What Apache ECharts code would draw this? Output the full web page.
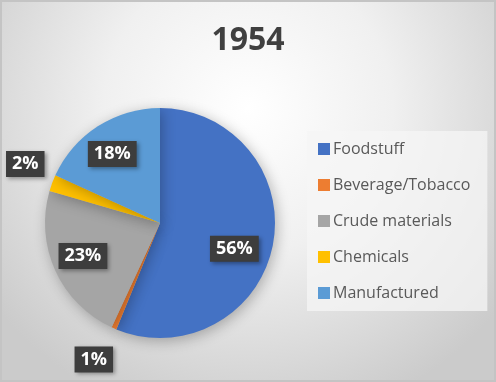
<!DOCTYPE html>
<html>
<head>
<meta charset="utf-8">
<script src="https://cdn.jsdelivr.net/npm/echarts@6/dist/echarts.min.js"></script>
<style>
html,body{margin:0;padding:0;background:#fff;}
#c{width:496px;height:382px;box-sizing:border-box;border:2px solid #c4c4c4;}
</style>
</head>
<body>
<div id="c"></div>
<script>
const titleText = '1954';
const categories = ['Foodstuff', 'Beverage/Tobacco', 'Crude materials', 'Chemicals', 'Manufactured'];
const values = [56.2, 0.7, 22.6, 2.3, 18.2];
const colors = ['#4472C4', '#ED7D31', '#A5A5A5', '#FFC000', '#5B9BD5'];

// label nudges (px) from the default inner label position
const labelNudge = [[15, 14], [-42, 81], [-22, 8], [-78, -38], [-15, -18]];

const chart = echarts.init(document.getElementById('c'), null, {renderer: 'canvas'});
chart.setOption({
  backgroundColor: {
    type: 'radial', x: 0.5, y: 0.28, r: 0.85,
    colorStops: [{offset: 0, color: '#ffffff'}, {offset: 0.45, color: '#f0f0f0'}, {offset: 1, color: '#cbcbcb'}]
  },
  title: {
    text: titleText, left: 'center', top: 18,
    textStyle: {fontFamily: 'Open Sans', fontWeight: 'bold', fontSize: 32, color: '#404040'}
  },
  legend: {
    orient: 'vertical', left: 305, top: 129,
    padding: [10, 17, 10, 11],
    backgroundColor: 'rgba(245,245,245,0.75)',
    itemWidth: 12, itemHeight: 12, itemGap: 20,
    icon: 'rect',
    textStyle: {fontFamily: 'Open Sans', fontSize: 16, color: '#595959', padding: [0, 0, 0, -2]},
    data: categories
  },
  series: [{
    type: 'pie',
    center: [158, 221],
    radius: [0, 115],
    startAngle: 90,
    clockwise: true,
    silent: true,
    itemStyle: {shadowBlur: 14, shadowColor: 'rgba(0,0,0,0.28)', shadowOffsetX: 2, shadowOffsetY: 3},
    label: {
      show: true, position: 'inside',
      formatter: p => Math.round(p.percent) + '%',
      fontFamily: 'Open Sans', fontWeight: 'bold', fontSize: 18, color: '#ffffff',
      backgroundColor: '#3d3d3d', padding: [5, 6, 3, 6],
      shadowBlur: 4, shadowColor: 'rgba(0,0,0,0.35)', shadowOffsetX: 2, shadowOffsetY: 2
    },
    labelLine: {show: false},
    labelLayout: p => ({dx: labelNudge[p.dataIndex][0], dy: labelNudge[p.dataIndex][1]}),
    data: categories.map((n, i) => ({name: n, value: values[i], itemStyle: {color: colors[i]}}))
  }]
});
</script>
</body>
</html>
